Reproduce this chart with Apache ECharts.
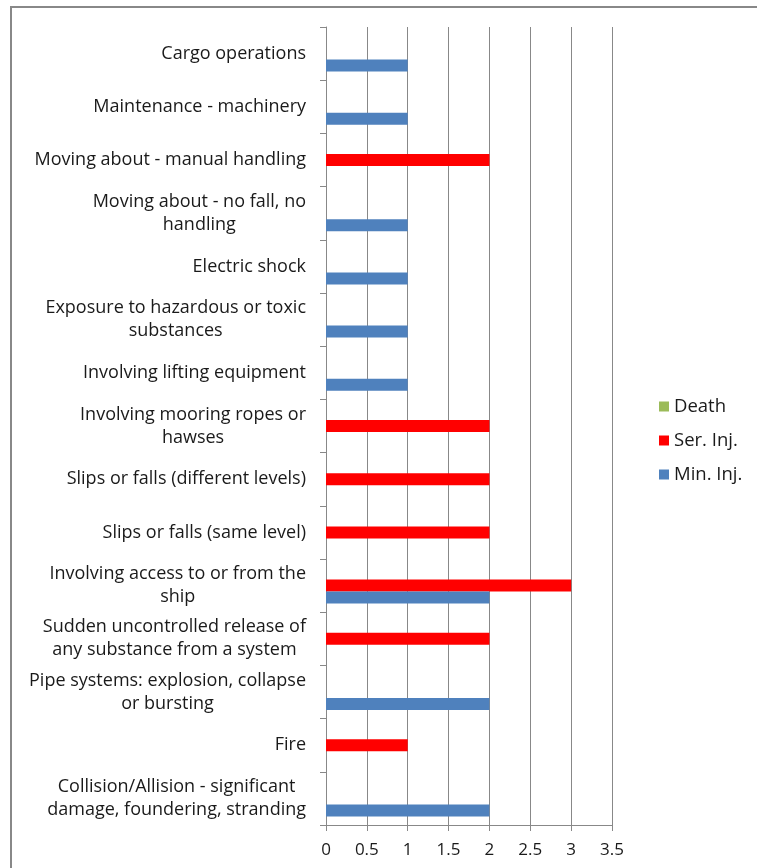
<!DOCTYPE html>
<html>
<head>
<meta charset="utf-8">
<script src="https://cdn.jsdelivr.net/npm/echarts@6/dist/echarts.min.js"></script>
<style>
  html, body { margin: 0; padding: 0; background: #fff; }
  #main { width: 757px; height: 868px; }
</style>
</head>
<body>
<div id="main"></div>
<script>
// categories, bottom to top (as on the axis)
var categories = [
  "Collision/Allision - significant\ndamage, foundering, stranding",
  "Fire",
  "Pipe systems: explosion, collapse\nor bursting",
  "Sudden uncontrolled release of\nany substance from a system",
  "Involving access to or from the\nship",
  "Slips or falls (same level)",
  "Slips or falls (different levels)",
  "Involving mooring ropes or\nhawses",
  "Involving lifting equipment",
  "Exposure to hazardous or toxic\nsubstances",
  "Electric shock",
  "Moving about - no fall, no\nhandling",
  "Moving about - manual handling",
  "Maintenance - machinery",
  "Cargo operations"
];
var deathData = [0, 0, 0, 0, 0, 0, 0, 0, 0, 0, 0, 0, 0, 0, 0];
var serInjData = [0, 1, 0, 2, 3, 2, 2, 2, 0, 0, 0, 0, 2, 0, 0];
var minInjData = [2, 0, 2, 0, 2, 0, 0, 0, 1, 1, 1, 1, 0, 1, 1];
var xTicks = [0, 0.5, 1, 1.5, 2, 2.5, 3, 3.5];

var font = "Open Sans";
var myChart = echarts.init(document.getElementById("main"));
myChart.setOption({
  animation: false,
  textStyle: { fontFamily: font },
  graphic: [{
    type: "rect",
    shape: { x: 11, y: 7, width: 760, height: 870 },
    style: { fill: "none", stroke: "#888", lineWidth: 2 }
  }],
  legend: {
    data: ["Death", "Ser. Inj.", "Min. Inj."],
    orient: "vertical",
    left: 654,
    top: 392,
    itemWidth: 10,
    itemHeight: 10,
    itemGap: 15,
    icon: "rect",
    textStyle: { fontFamily: font, fontSize: 18.5, color: "#1a1a1a", lineHeight: 19 }
  },
  grid: { left: 326, right: 145, top: 27, bottom: 43 },
  xAxis: {
    type: "value",
    min: xTicks[0],
    max: xTicks[xTicks.length - 1],
    interval: 0.5,
    axisLine: { show: true, lineStyle: { color: "#888", width: 1 } },
    axisTick: { show: true, length: 6, lineStyle: { color: "#888" } },
    axisLabel: { fontFamily: font, fontSize: 17, color: "#1a1a1a", margin: 17 },
    splitLine: { show: true, lineStyle: { color: "#888", width: 1 } }
  },
  yAxis: {
    type: "category",
    data: categories,
    axisLine: { show: true, lineStyle: { color: "#888", width: 1 } },
    axisTick: { show: true, length: 6, lineStyle: { color: "#888" } },
    axisLabel: {
      interval: 0,
      margin: 20,
      formatter: function(val) {
        return val.split("\n").map(function(s) { return "{c|" + s + "}"; }).join("\n");
      },
      rich: {
        c: { fontFamily: font, fontSize: 18, color: "#1a1a1a", align: "center", lineHeight: 23 }
      }
    },
    splitLine: { show: false }
  },
  series: [
    {
      name: "Death",
      type: "bar",
      data: deathData,
      barWidth: 12,
      barGap: "0%",
      barCategoryGap: "32%",
      itemStyle: { color: "#9BBB59" }
    },
    {
      name: "Ser. Inj.",
      type: "bar",
      data: serInjData,
      barWidth: 12,
      barGap: "0%",
      itemStyle: { color: "#FF0000" }
    },
    {
      name: "Min. Inj.",
      type: "bar",
      data: minInjData,
      barWidth: 12,
      barGap: "0%",
      itemStyle: { color: "#4F81BD" }
    }
  ]
});
</script>
</body>
</html>
